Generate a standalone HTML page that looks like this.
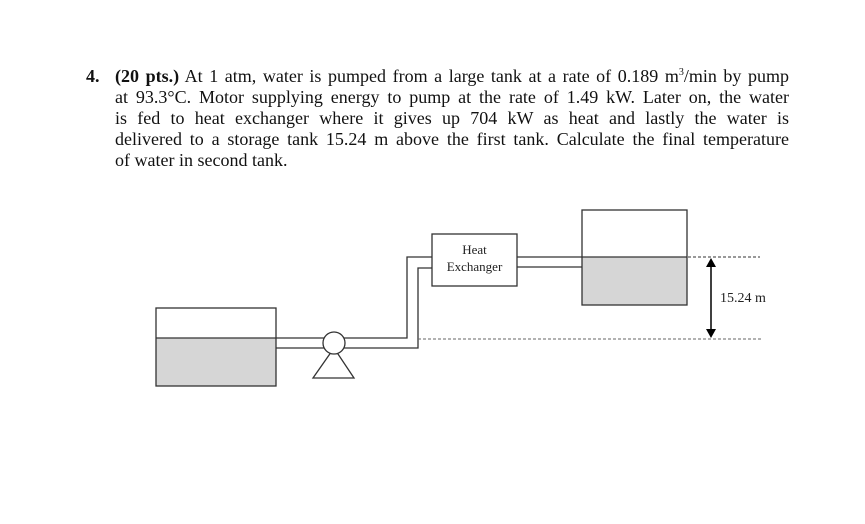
<!DOCTYPE html>
<html><head><meta charset="utf-8"><style>
body{margin:0;width:865px;height:524px;background:#fff;position:relative;overflow:hidden;font-family:"Liberation Serif",serif;color:#111}
.ln{position:absolute;left:115px;width:674px;font-size:18px;line-height:21px;text-align:justify;text-align-last:justify;white-space:nowrap}
.num{position:absolute;left:86px;top:66px;font-size:18px;font-weight:bold}
</style></head><body>
<div class="num">4.</div>
<div class="ln" style="top:66px"><b>(20 pts.)</b> At 1 atm, water is pumped from a large tank at a rate of 0.189 m<sup style="font-size:10px;line-height:0">3</sup>/min by pump</div>
<div class="ln" style="top:87px">at 93.3°C. Motor supplying energy to pump at the rate of 1.49 kW. Later on, the water</div>
<div class="ln" style="top:108px">is fed to heat exchanger where it gives up 704 kW as heat and lastly the water is</div>
<div class="ln" style="top:129px">delivered to a storage tank 15.24 m above the first tank. Calculate the final temperature</div>
<div class="ln" style="top:150px;text-align-last:left">of water in second tank.</div>
<svg width="865" height="524" style="position:absolute;left:0;top:0" xmlns="http://www.w3.org/2000/svg">
<g stroke="#333" stroke-width="1.3" fill="none">
<rect x="156" y="338" width="120" height="48" fill="#d6d6d6" stroke="none"/>
<rect x="156" y="308" width="120" height="78"/>
<line x1="156" y1="338" x2="276" y2="338"/>
<rect x="582" y="257" width="105" height="48" fill="#d6d6d6" stroke="none"/>
<rect x="582" y="210" width="105" height="95"/>
<line x1="582" y1="257" x2="687" y2="257"/>
<polyline points="276,338 407,338 407,257 432,257"/>
<polyline points="276,348 418,348 418,268 432,268"/>
<polygon points="334,348 313,378 354,378" fill="#fff"/>
<circle cx="334" cy="343" r="11" fill="#fff"/>
<rect x="432" y="234" width="85" height="52" fill="#fff"/>
<line x1="517" y1="257" x2="582" y2="257"/>
<line x1="517" y1="267" x2="582" y2="267"/>
<line x1="553" y1="257" x2="760" y2="257" stroke-dasharray="3,2" stroke-width="1"/>
<line x1="418" y1="339" x2="763" y2="339" stroke-dasharray="3,2" stroke-width="1" stroke="#666"/>
<line x1="711" y1="264" x2="711" y2="332" stroke="#000" stroke-width="1.5"/>
</g>
<polygon points="711,258 706,267 716,267" fill="#000"/>
<polygon points="711,338 706,329 716,329" fill="#000"/>
<text x="474.5" y="254" font-family="Liberation Serif,serif" font-size="13" text-anchor="middle" fill="#222">Heat</text>
<text x="474.5" y="271" font-family="Liberation Serif,serif" font-size="13" text-anchor="middle" fill="#222">Exchanger</text>
<text x="720" y="302" font-family="Liberation Serif,serif" font-size="14" fill="#222">15.24 m</text>
</svg>
</body></html>
